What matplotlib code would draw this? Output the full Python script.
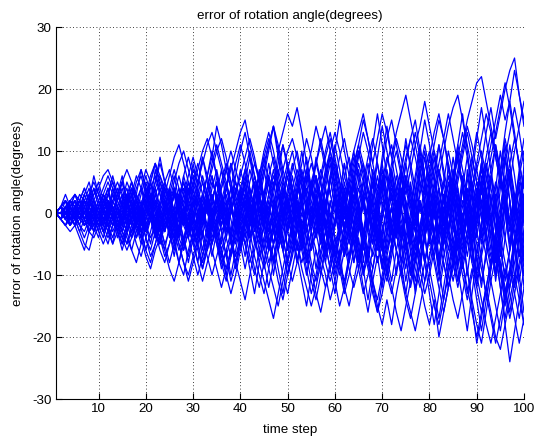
import matplotlib
matplotlib.use("Agg")
import matplotlib.pyplot as plt

time_step = list(range(1, 101))

s01 = [0, 1, -1, 1, 2, 0, -2, -1, 1, 3,
       2, 4, 1, -1, 2, 5, 3, 0, -2, 1,
       4, 6, 3, 1, -2, -4, -1, 2, 5, 3,
       0, -3, -6, -3, 1, 4, 7, 4, 0, -2,
       1, 5, 8, 6, 2, -1, -5, -2, 3, 7,
       10, 6, 2, -2, -6, -3, 2, 6, 9, 5,
       1, -3, -7, -4, 0, 5, 9, 12, 8, 3,
       -1, -5, -2, 3, 8, 12, 15, 10, 5, 0,
       -4, -8, -5, 1, 6, 11, 7, 3, -2, 2,
       8, 13, 17, 12, 16, 20, 23, 25, 19, 14]
s02 = [0, -1, 0, -2, -1, 1, -1, -3, -2, 0,
       -3, -5, -2, 0, -2, -4, -6, -3, -1, -4,
       -7, -5, -2, 1, -1, -4, -8, -10, -6, -3,
       -5, -9, -6, -2, 1, -3, -7, -11, -8, -4,
       -1, -5, -9, -12, -8, -4, -7, -11, -14, -10,
       -6, -2, -5, -9, -13, -10, -6, -3, -7, -11,
       -15, -12, -8, -4, -1, -5, -9, -13, -16, -11,
       -7, -3, -6, -10, -14, -17, -13, -8, -4, -9,
       -13, -17, -12, -7, -3, 1, -4, -9, -14, -18,
       -21, -16, -11, -7, -12, -18, -24, -19, -14, -9]
s03 = [0, 1, 2, 0, 1, 3, 2, 4, 1, -1,
       1, 3, 5, 2, 0, -2, 1, 4, 6, 3,
       1, -1, 2, 5, 7, 4, 2, 6, 9, 6,
       3, 1, 4, 8, 11, 8, 5, 2, 6, 10,
       13, 9, 6, 3, 7, 11, 14, 10, 13, 16,
       14, 17, 13, 8, 4, 1, 5, 9, 12, 8,
       4, 0, -3, 1, 5, 8, 4, 0, -4, -1,
       3, 7, 10, 6, 2, -2, -6, -2, 2, 6,
       10, 6, 2, -3, -7, -3, 1, 5, 9, 5,
       1, -4, -8, -4, 0, 4, 8, 12, 8, 4]
s04 = [0, 0, -1, 1, -1, -2, -4, -2, 0, -2,
       -4, -1, 1, -1, -3, -5, -2, 0, -3, -6,
       -8, -5, -2, 0, -3, -6, -3, 0, -4, -7,
       -10, -7, -4, -1, -4, -8, -11, -7, -3, 0,
       -3, -7, -10, -6, -2, 1, -2, -6, -10, -13,
       -9, -5, -1, -4, -8, -11, -7, -3, 0, -4,
       -8, -12, -15, -11, -7, -3, -7, -11, -15, -18,
       -14, -18, -13, -9, -5, -1, -5, -9, -13, -10,
       -6, -2, -6, -10, -14, -17, -13, -9, -15, -21,
       -17, -12, -8, -4, -8, -12, -16, -11, -6, -10]
s05 = [0, 1, 0, 2, 3, 1, 0, 2, 4, 2,
       0, -2, 0, 3, 5, 2, -1, 1, 4, 7,
       5, 2, -1, -3, 0, 3, 6, 3, 0, -3,
       -1, 3, 6, 9, 6, 3, 0, 4, 8, 11,
       8, 4, 1, -2, 2, 6, 9, 5, 1, -3,
       0, 4, 8, 12, 9, 5, 2, 6, 10, 13,
       10, 6, 3, 7, 11, 15, 12, 8, 12, 16,
       13, 9, 13, 16, 19, 15, 11, 7, 3, 7,
       11, 15, 12, 8, 4, 0, -4, 0, 4, 8,
       12, 16, 13, 9, 5, 9, 13, 17, 13, 8]
s06 = [0, -1, 1, 2, 0, -1, 1, 3, 5, 3,
       1, -1, -3, -1, 2, 4, 1, -2, -4, -1,
       2, 5, 8, 5, 2, -1, -4, -1, 2, 5,
       8, 5, 2, -1, -4, -7, -4, 0, 3, 6,
       9, 12, 9, 5, 2, -2, -5, -1, 3, 7,
       4, 0, -4, -8, -5, -1, 3, 7, 10, 7,
       3, -1, 2, 6, 10, 7, 3, -1, -5, -9,
       -5, -1, 3, 7, 11, 8, 4, 0, 4, 9,
       13, 16, 12, 7, 3, 7, 11, 15, 18, 21,
       22, 18, 14, 10, 6, 2, -2, 2, 6, 10]
s07 = [0, 0, 1, -1, -2, 0, -1, -3, -1, 1,
       -1, -3, -5, -3, -1, -3, -6, -8, -5, -2,
       0, -3, -5, -2, 1, -2, -5, -8, -11, -8,
       -5, -2, 1, -2, -5, -8, -6, -3, 0, 3,
       0, -3, -7, -10, -13, -9, -5, -2, -6, -10,
       -7, -3, 0, 4, 1, -3, -7, -10, -14, -11,
       -7, -3, 1, -2, -6, -10, -7, -3, 1, 5,
       2, -2, -6, -10, -7, -3, -7, -11, -15, -18,
       -14, -20, -16, -12, -8, -4, 0, -4, -8, -12,
       -16, -12, -8, -4, -8, -13, -17, -13, -9, -5]
s08 = [0, 1, -1, 0, 2, 1, 3, 1, -1, 1,
       3, 5, 3, 1, -1, 1, 4, 2, 0, 3,
       5, 8, 6, 3, 0, -3, 0, 3, 6, 9,
       6, 3, 0, -2, 1, 4, 7, 10, 7, 4,
       1, -2, 2, 6, 9, 12, 8, 4, 0, 3,
       7, 10, 6, 3, -1, 2, 6, 10, 13, 9,
       5, 2, 6, 10, 13, 16, 12, 8, 4, 8,
       12, 15, 11, 7, 3, 7, 11, 14, 18, 14,
       10, 6, 10, 14, 17, 19, 15, 11, 7, 3,
       -1, 3, 7, 11, 7, 2, -2, -6, -2, 3]
s09 = [0, -1, 0, 1, -1, -3, -5, -6, -3, -1,
       -2, -4, -2, 1, 3, 0, -2, -5, -7, -4,
       -1, 1, -2, -5, -8, -5, -2, 1, -2, -5,
       -8, -11, -8, -5, -1, 2, -1, -5, -8, -11,
       -14, -10, -6, -3, -6, -9, -12, -15, -11, -7,
       -3, 1, -2, -6, -9, -13, -16, -12, -8, -4,
       -8, -11, -7, -3, 1, -3, -7, -11, -14, -10,
       -6, -2, -6, -9, -13, -16, -19, -15, -11, -7,
       -3, 1, -3, -7, -11, -7, -3, 1, 5, 1,
       -3, -7, -11, -15, -19, -14, -9, -13, -17, -12]
s10 = [0, 1, 2, 1, -1, 0, 2, 1, 3, 5,
       2, 0, 2, 4, 1, -1, -3, 0, 3, 6,
       3, 0, -2, 1, 4, 7, 4, 1, -2, -5,
       -2, 1, 4, 7, 10, 12, 9, 5, 2, -1,
       -4, -1, 3, 6, 10, 13, 10, 6, 3, -1,
       -4, -8, -5, -1, 3, 6, 2, -2, 1, 5,
       9, 12, 8, 4, 0, -4, -7, -3, 1, 5,
       9, 6, 2, -2, -5, -1, 3, 7, 11, 7,
       3, -1, -5, -2, 2, 6, 10, 14, 11, 7,
       3, 7, 11, 15, 19, 15, 18, 23, 19, 15]
s11 = [0, 0, 1, 0, -1, 1, 0, -2, 0, 2,
       0, -2, -4, -1, 1, 3, 1, -1, -3, 0,
       2, 4, 1, -2, 0, 3, 1, -2, -4, -1,
       2, 5, 2, -1, -4, -2, 1, 4, 1, -2,
       -5, -2, 1, 4, 7, 3, 0, -3, -6, -3,
       0, 3, 6, 2, -1, -4, -1, 2, 5, 8,
       5, 1, -2, -5, -2, 1, 4, 1, -3, -6,
       -3, 1, 4, 7, 4, 0, -3, -7, -4, 0,
       3, 7, 4, 0, -4, -8, -5, -1, 3, 7,
       10, 6, 2, -2, -6, -10, -6, -2, 2, 6]
s12 = [0, -1, -2, -1, 0, -2, -3, -1, 1, -1,
       -3, -2, 0, -3, -5, -3, 0, 2, -1, -4,
       -6, -3, 0, 3, 0, -3, -6, -4, -1, 2,
       -1, -4, -7, -10, -7, -4, -1, -4, -8, -5,
       -2, 1, -2, -6, -9, -6, -3, 0, -4, -8,
       -11, -8, -4, -7, -11, -14, -10, -6, -3, -7,
       -10, -6, -2, -5, -9, -13, -10, -6, -2, -6,
       -10, -13, -9, -5, -1, -5, -9, -12, -8, -4,
       -8, -12, -16, -12, -8, -4, -8, -12, -16, -20,
       -16, -12, -16, -20, -22, -18, -14, -10, -14, -18]
s13 = [0, 1, 0, -1, 0, 2, 4, 2, 0, 2,
       4, 6, 4, 2, 5, 7, 5, 2, 0, 3,
       6, 8, 5, 3, 6, 9, 11, 8, 5, 2,
       5, 8, 11, 13, 10, 7, 4, 7, 10, 13,
       15, 11, 8, 5, 8, 11, 14, 11, 7, 4,
       1, -2, 1, 5, 8, 5, 1, -3, -6, -2,
       2, 6, 9, 5, 1, -3, -6, -9, -5, -1,
       3, 7, 3, -1, -5, -9, -12, -8, -4, 0,
       4, 8, 12, 16, 12, 8, 4, 0, -4, 0,
       4, 8, 4, 0, -4, -8, -12, -8, -4, 0]
s14 = [0, -1, -2, -3, -2, -4, -6, -3, -1, -3,
       -5, -3, -1, 1, -1, -3, -1, 2, 4, 2,
       -1, -3, -6, -8, -5, -2, -5, -8, -10, -7,
       -4, -1, 2, -1, -4, -7, -10, -13, -10, -6,
       -3, 0, 3, 6, 3, 0, -3, -6, -3, 0,
       4, 7, 4, 0, -3, -6, -9, -12, -9, -5,
       -2, 2, 5, 2, -2, -5, -8, -12, -16, -13,
       -9, -5, -1, 3, 0, -4, -8, -4, 0, 4,
       0, -4, -8, -12, -9, -5, -1, 3, -1, -5,
       -9, -13, -17, -21, -17, -13, -9, -5, -1, 3]
s15 = [0, 1, 2, 1, 3, 2, 0, 1, 3, 4,
       6, 7, 5, 3, 1, 3, 5, 3, 1, -1,
       1, 4, 6, 4, 2, 5, 8, 10, 7, 4,
       7, 10, 12, 9, 14, 11, 7, 4, 1, 4,
       7, 10, 6, 3, 0, -3, 0, 4, 7, 10,
       12, 9, 5, 1, 4, 8, 11, 14, 10, 6,
       2, -2, 1, 5, 9, 13, 10, 6, 2, -2,
       -6, -3, 1, 5, 9, 12, 9, 5, 1, -3,
       -7, -11, -7, -3, 1, 5, 9, 13, 9, 5,
       1, 5, 9, 13, 17, 21, 17, 12, 8, 4]
s16 = [0, 0, -1, -2, 0, 1, -1, -3, -4, -2,
       0, 2, 0, -2, -4, -6, -4, -2, -4, -7,
       -9, -6, -4, -6, -9, -11, -8, -5, -2, 1,
       3, 0, -3, -6, -9, -12, -9, -6, -3, 0,
       2, -1, -4, -8, -11, -14, -17, -13, -9, -5,
       -2, -5, -9, -12, -15, -12, -8, -5, -1, 2,
       -1, -5, -9, -12, -9, -5, -1, 3, -1, -5,
       -9, -12, -16, -19, -15, -11, -7, -3, -7, -11,
       -15, -18, -14, -10, -6, -2, 2, -2, -6, -10,
       -14, -18, -21, -17, -13, -9, -13, -17, -21, -17]
s17 = [0, 1, 0, 2, 1, -1, 0, 2, 0, -2,
       -1, 1, 3, 1, -1, -3, -1, 2, 0, -2,
       -4, -2, 1, 4, 2, -1, -3, 0, 3, 6,
       3, 0, -3, -5, -2, 1, 4, 1, -2, -5,
       -2, 2, 5, 2, -2, -5, -8, -4, 0, 4,
       8, 5, 1, -3, 0, 4, 7, 4, 0, -4,
       -7, -4, 0, 4, 8, 5, 1, -3, 0, 4,
       8, 11, 7, 3, -1, -5, -1, 3, 7, 10,
       6, 2, -2, 1, 5, 9, 13, 9, 5, 1,
       5, 9, 13, 9, 5, 1, 5, 10, 14, 18]
s18 = [0, -1, 1, 0, -2, -1, 1, -1, -2, 0,
       2, 0, -2, 0, 3, 1, -1, -4, -2, 1,
       3, 0, -2, -5, -3, 0, 3, 5, 2, -1,
       -4, -1, 2, 5, 3, 0, -4, -7, -4, 0,
       3, 7, 4, 1, -3, -6, -3, 1, 5, 2,
       -2, -5, -8, -5, -1, 2, -2, -5, -9, -6,
       -2, 2, 5, 9, 6, 2, -2, -5, -1, 3,
       7, 3, -1, -4, 0, 4, 0, -4, -8, -4,
       0, 4, 0, -4, -8, -12, -8, -4, 0, 4,
       0, -5, -9, -5, -1, 3, -1, -6, -12, -18]
s19 = [0, 0, 1, 2, 1, 0, -1, 1, 2, 0,
       -1, 1, 3, 5, 3, 0, 2, 5, 7, 4,
       1, -2, -4, -1, 2, -1, -4, -6, -3, 0,
       3, 6, 3, 0, -3, -6, -3, 0, 3, 7,
       4, 0, -4, -7, -4, 0, 4, 8, 11, 8,
       4, 0, 3, 7, 10, 14, 11, 7, 3, 0,
       -4, -7, -4, 0, 4, 1, -3, -7, -4, 0,
       4, 8, 12, 9, 5, 1, -3, -7, -11, -7,
       -3, 1, 5, 2, -2, -6, -10, -14, -10, -6,
       -2, 2, -2, -6, -10, -14, -10, -5, 0, 5]
s20 = [0, 1, -1, -2, 0, 2, 1, -1, -3, -1,
       1, 3, 1, -1, -3, -5, -3, -1, 1, 3,
       1, -2, -4, -7, -5, -2, 1, 4, 1, -2,
       -5, -8, -5, -1, 2, 5, 8, 5, 1, -2,
       -5, -8, -5, -1, 3, 6, 3, -1, -4, -8,
       -5, -1, 3, 7, 4, 0, -4, -8, -11, -8,
       -4, 0, 4, 8, 11, 8, 4, 0, -4, -8,
       -11, -7, -3, 1, 5, 9, 13, 9, 5, 1,
       -3, -7, -3, 1, 5, 9, 5, 1, -3, -7,
       -11, -7, -3, 1, 5, 9, 5, 1, -3, -8]
s21 = [0, -1, 0, 1, 3, 1, 2, 0, -1, 1,
       3, 2, 0, -2, -1, 1, 3, 6, 4, 1,
       -1, 1, 4, 2, -1, -4, -2, 1, -2, -5,
       -3, 0, 3, 0, -3, -6, -9, -6, -3, 1,
       4, 1, -2, -5, -2, 1, 4, 7, 4, 1,
       -2, -6, -3, 1, 5, 8, 5, 1, -2, -6,
       -9, -13, -10, -6, -2, 2, 6, 2, -2, -6,
       -10, -6, -2, 2, 6, 3, -1, -5, -1, 3,
       7, 11, 7, 3, -1, -5, -9, -5, -1, 3,
       7, 3, -1, -5, -9, -13, -9, -4, 1, 6]
s22 = [0, 1, -1, 0, 1, -1, -2, 0, 1, -1,
       -2, 0, 2, 0, -2, 1, 3, 1, -1, -3,
       0, 3, 5, 2, -1, 1, 4, 1, -2, 1,
       4, 1, -2, -4, -1, 2, -1, -4, -7, -4,
       -1, 2, -1, -4, -1, 3, 6, 3, 0, -3,
       -6, -3, 0, -3, -6, -3, 1, -2, -6, -9,
       -6, -2, 1, -2, -6, -9, -6, -2, 2, 5,
       1, -3, 0, 4, 0, -4, -7, -3, 1, -3,
       -7, -3, 1, -3, -7, -11, -7, -3, 1, -3,
       -7, -3, 1, 5, 1, -4, -8, -12, -8, -4]
s23 = [0, -1, 1, -2, 0, 2, -1, 1, 4, 1,
       -2, 2, -1, 3, 6, 2, 4, -1, 1, 5,
       2, 7, 3, 0, 4, -2, 1, 6, 3, 8,
       4, 9, 5, 1, 6, 2, -3, 1, -2, 3,
       7, 2, 5, -1, 3, 8, 4, 10, 6, 1,
       4, -2, 2, 7, 3, 9, 5, 0, 6, 11,
       7, 2, -4, 1, -3, 3, 8, 4, 9, 14,
       10, 5, 0, 6, 1, -4, 2, -3, 4, 9,
       5, 11, 6, 1, -5, 0, 6, 2, 8, 13,
       9, 4, -2, 3, -3, 2, -5, 1, 7, 2]
s24 = [0, 1, -1, 0, -2, 1, -1, -3, 0, -2,
       1, -2, -5, -1, -3, 0, -4, -1, 2, -2,
       -5, -1, -4, 0, -3, -7, -2, -5, 0, -4,
       -8, -3, -6, -1, 2, -3, -7, -4, -9, -5,
       0, -4, 1, -3, -8, -4, -10, -5, -1, -6,
       -2, 3, -2, -7, -3, -9, -4, 1, -4, -10,
       -6, -12, -7, -2, -8, -3, 2, -3, -8, -4,
       -10, -5, 0, -5, -11, -6, -13, -8, -3, -9,
       -4, 2, -3, -9, -5, -11, -6, 0, -6, -12,
       -7, -14, -9, -3, -10, -4, 2, -4, -11, -6]
s25 = [0, 0, 2, -1, 1, -1, 2, 0, -2, 1,
       3, 0, 4, 1, -2, 2, -1, 3, 0, 4,
       1, -3, 1, 5, 2, -2, 3, -1, 4, 0,
       -4, 1, -3, 2, 5, 0, 4, 8, 3, -1,
       3, -2, 2, 7, 2, -3, 1, -4, 2, 6,
       1, 5, 10, 5, 0, 4, -1, -6, -2, 3,
       -2, 4, -1, 5, 10, 6, 1, -5, 0, -6,
       -1, 5, 0, 6, 12, 7, 2, -4, 1, -5,
       1, 7, 2, -3, 3, -3, 4, 9, 3, -2,
       4, -2, 5, 11, 6, 0, -6, -1, 5, -2]
s26 = [0, -1, 0, 2, 1, -1, 1, -2, 1, -1,
       -3, 0, -2, 1, -3, -1, 2, -2, 1, -3,
       0, -4, -1, 2, -2, 1, -3, 0, 4, 0,
       -4, 0, 3, -1, 3, -2, 1, -4, 0, -5,
       -1, 4, 0, -4, 1, 5, 0, -5, -1, 3,
       -2, 2, -3, -8, -3, 1, -4, 1, 6, 1,
       -4, 0, 5, 0, -5, -10, -5, 0, -5, 1,
       6, 1, -4, 1, -5, -10, -4, 2, -3, 3,
       -3, -9, -3, 2, 7, 2, -4, 1, -5, -11,
       -6, 0, 6, 1, -5, -11, -6, 0, 6, 1]
s27 = [0, 1, 3, 1, 2, 0, 3, 1, -1, 2,
       0, 3, 6, 3, 5, 2, 0, 3, 7, 4,
       2, 5, 9, 5, 3, 6, 2, -1, 3, 7,
       5, 9, 6, 2, 5, 1, 4, 8, 5, 2,
       6, 3, 0, 4, 9, 5, 1, 6, 11, 7,
       3, -2, 2, 7, 3, 8, 12, 8, 3, 7,
       2, -3, 1, 6, 2, -4, 1, 7, 3, 9,
       14, 9, 4, 0, 5, 1, 6, 11, 6, 1,
       -4, 1, -5, 0, 5, 11, 16, 10, 4, -1,
       5, 0, -6, 0, 6, 12, 8, 3, -3, 2]
s28 = [0, -1, -2, 0, -1, -3, -1, 0, -2, -4,
       -1, -3, 0, -2, -5, -2, -4, -1, -3, -6,
       -3, 0, -3, -6, -2, -5, -8, -4, -7, -3,
       -6, -9, -5, -2, -5, -9, -6, -10, -6, -2,
       -5, -9, -13, -8, -4, -8, -5, -9, -13, -8,
       -4, -7, -11, -15, -10, -6, -10, -5, -9, -13,
       -8, -4, -8, -3, -7, -12, -16, -11, -7, -12,
       -7, -11, -6, -2, -7, -12, -8, -3, -8, -13,
       -18, -13, -8, -12, -7, -3, -8, -13, -9, -14,
       -19, -14, -9, -4, -9, -15, -10, -5, -10, -16]
s29 = [0, 1, 0, -1, 1, 2, 0, -1, 2, 4,
       1, -1, 2, 0, -2, 1, 4, 2, -1, -3,
       0, 3, 0, -3, 1, 4, 1, -2, 2, 5,
       2, -1, 3, 6, 2, -2, 2, -1, -5, -1,
       3, -1, -5, -1, 3, 6, 2, -2, -6, -2,
       2, 6, 1, -3, 1, -4, 0, 5, 9, 4,
       0, 5, 1, -4, -8, -4, 1, 5, 0, -5,
       -9, -5, 0, 4, -1, -6, -11, -6, -1, 4,
       9, 4, -1, -6, -1, 4, -2, -7, -2, 3,
       8, 3, -2, -8, -3, 2, 7, 2, -3, -9]
s30 = [0, 0, -1, 1, 0, 2, 4, 2, 6, 3,
       1, -1, 1, -2, 0, 3, 1, -2, -5, -2,
       1, 4, 0, -3, 0, 3, -1, -4, -8, -4,
       0, 3, 0, 4, 7, 3, -1, 2, -2, 1,
       5, 9, 4, 0, 3, -1, -5, -1, 4, 0,
       -4, 0, 5, 9, 4, -1, 3, -2, -6, -1,
       3, 8, 3, -2, 2, -3, -8, -3, 2, 7,
       2, -3, 1, -4, -9, -4, 1, 6, 10, 5,
       0, -5, 0, 5, 0, -6, -1, 4, -1, -7,
       -2, 4, -1, -7, -1, 5, 11, 6, 0, -5]
s31 = [0, -1, 1, 0, -1, 0, -2, 0, -3, -1,
       1, -2, 0, -3, -6, -3, -1, -4, -1, 2,
       -1, -4, -1, 2, -2, -5, -2, -6, -3, 0,
       -3, -7, -3, 1, -2, -6, -10, -6, -2, -5,
       -9, -5, -1, -4, -8, -12, -8, -3, -6, -10,
       -6, -2, -6, -10, -5, -1, -5, 1, -3, -8,
       -3, 1, -4, -8, -4, -9, -14, -9, -4, -8,
       -3, 1, -3, -8, -13, -8, -4, -9, -4, 1,
       -4, -9, -14, -9, -4, -9, -14, -19, -13, -7,
       -12, -6, -1, -6, -12, -17, -12, -6, -1, -7]
s32 = [0, 1, 0, 1, -1, 1, 3, 5, 2, 0,
       2, 0, -2, 1, -1, 2, 5, 2, -1, 2,
       5, 8, 4, 1, 4, 0, -3, 1, 5, 2,
       -2, 2, 6, 10, 6, 2, 5, 1, -3, 1,
       5, 1, -2, 2, 6, 10, 14, 9, 5, 8,
       4, 0, -4, 1, 5, 0, -4, 0, 5, 10,
       15, 10, 6, 10, 5, 1, 6, 11, 16, 11,
       6, 2, 6, 1, -4, 0, 5, 10, 15, 11,
       6, 1, 5, 10, 6, 1, -4, 1, 6, 12,
       17, 12, 7, 2, 7, 13, 18, 13, 7, 12]
s33 = [0, 1, -1, 2, 0, -2, 1, 3, 0, -3,
       1, 4, 0, -3, 2, -2, 3, -1, -4, 1,
       5, 1, -3, 2, -2, 4, 0, -5, -1, 4,
       0, -4, 2, -3, 3, 7, 2, -3, 1, -4,
       2, -2, 4, -1, -6, -1, 5, 0, -5, 1,
       6, 1, -4, 2, -3, 3, -2, 4, -1, -7,
       -2, 4, -1, 5, 0, -6, -1, 5, -1, 6,
       1, -5, 0, 6, 1, -5, 1, 7, 2, -4,
       2, -4, 3, -3, 4, -2, 5, -1, -8, -2,
       5, -1, 6, 0, -7, -1, 6, 0, -7, 1]
s34 = [0, -1, 0, -2, 1, -1, 2, -1, -3, 0,
       -2, 1, -1, -4, -1, 2, -2, 1, -3, -1,
       2, -2, -5, -1, 3, 0, -4, 1, -3, 2,
       -2, -6, -2, 3, -1, -5, 0, -4, 1, -3,
       -7, -2, 2, -3, 1, -4, -8, -3, 2, -2,
       3, -2, -6, -1, 4, 0, -5, -1, -6, -2,
       2, -3, 1, -5, -9, -4, 1, -3, 2, -4,
       1, -5, -10, -5, 0, -4, 2, -3, -8, -3,
       2, -3, 3, -2, -7, -2, 4, -1, -6, 0,
       -5, 1, -4, -10, -4, 2, -3, 3, -2, -7]
s35 = [0, 0, 1, -1, 1, 2, 0, -1, 1, -1,
       2, 0, 3, 1, -1, 2, 0, -2, 1, 3,
       0, -2, 1, 4, 1, -2, 2, 5, 1, -2,
       2, -1, 3, 6, 2, -1, 3, 0, 4, 1,
       -2, 2, 6, 2, -1, 3, 7, 3, -1, 2,
       -2, 3, 7, 3, -2, 2, -1, 4, 8, 3,
       -1, 3, -2, 2, 7, 3, -2, 3, 8, 4,
       -1, 3, -3, 2, 8, 3, -2, 4, 9, 4,
       -1, 4, -2, 3, 9, 4, -2, 3, -3, 2,
       8, 3, -2, 4, 10, 4, -2, 3, -4, 1]
s36 = [0, 1, 0, -1, 0, 1, -1, 0, 2, 0,
       -1, 1, -1, -3, 0, 2, -1, 1, -2, 0,
       3, 1, -2, 0, -3, -1, 2, -1, -4, -1,
       2, -1, -4, 0, 3, 0, -3, 1, -2, 2,
       5, 1, -3, 1, -2, 2, -2, -6, -2, 2,
       -2, 2, -3, 1, 5, 1, -3, 2, -2, 3,
       -1, -5, -1, 3, -1, 3, -2, 2, 6, 1,
       -3, 1, -4, 1, 6, 2, -3, 2, -4, 0,
       5, 0, -5, 0, 5, 1, -4, 1, -5, 0,
       6, 1, -4, 2, -3, 2, 7, 2, -3, 3]
s37 = [0, -1, 1, 0, 2, 0, -1, 1, -1, 1,
       3, 1, -1, 2, 4, 1, -1, 1, -2, 1,
       -1, 2, 0, -3, 0, 3, 0, -2, 1, 4,
       1, -2, 2, -1, 3, 0, -4, 0, 4, 1,
       -2, 2, -2, 3, 0, -4, 1, 5, 1, -3,
       1, -3, 2, 6, 2, -2, 2, -3, 2, -2,
       3, 8, 3, -2, 2, -4, 1, -3, 3, 8,
       3, -2, 2, -4, 2, -3, 3, 9, 4, -2,
       3, -3, 3, -3, 4, 10, 4, -2, 3, -4,
       2, -4, 3, -3, 4, 11, 5, -1, 4, -4]
s38 = [0, 0, -1, 1, -1, 0, -2, -1, 1, -1,
       -3, -1, 1, -1, -4, -2, 1, -2, 0, -3,
       -1, 2, -2, 0, -4, -1, 3, -1, -4, 0,
       -3, 1, -3, -7, -3, 1, -2, 2, -2, -6,
       -2, 2, -2, 3, -1, -6, -1, 3, -2, 2,
       -3, -8, -3, 2, -2, 3, -2, -8, -3, 2,
       -3, 3, -2, -8, -3, 2, -3, 2, -3, -9,
       -4, 1, -4, 1, -4, -10, -4, 2, -3, 2,
       -4, -10, -4, 2, -3, 3, -3, -10, -4, 2,
       -4, 2, -4, -11, -5, 1, -5, 2, -4, -12]
s39 = [0, 1, 2, 0, -1, 1, 0, 2, 0, -2,
       0, 2, 0, -2, 0, 3, 1, -3, -1, 2,
       -1, -4, -2, 1, -1, -4, 0, 3, 1, -3,
       -1, 3, 1, -5, -2, 2, 0, -5, -1, 4,
       1, -4, 0, 5, 1, -6, -2, 3, 0, -6,
       -1, 4, 2, -5, -1, 6, 1, -7, -2, 4,
       0, -7, -2, 5, 1, -8, -2, 6, 2, -6,
       -1, 7, 1, -8, -3, 5, 0, -9, -2, 6,
       2, -8, -1, 8, 1, -9, -3, 7, 0, -10,
       -2, 8, 1, -10, -2, 9, 2, -11, -3, 8]
s40 = [0, -1, -2, 0, -1, 1, 2, 0, -1, 1,
       -1, 0, 2, 3, 1, -1, 1, -2, -3, 0,
       2, -1, -3, 0, 2, 4, 1, -2, 0, -3,
       -5, -2, 1, 3, 0, -3, -1, 2, 5, 2,
       -1, -4, -1, 2, -2, -5, -2, 1, 4, 1,
       -3, -6, -3, 0, 3, 6, 3, -1, -4, -1,
       2, -2, -5, -2, 2, 5, 2, -2, -6, -3,
       1, 4, 1, -3, -6, -3, 1, 5, 2, -2,
       -5, -2, 2, 6, 2, -2, -6, -3, 1, 5,
       2, -3, -7, -3, 1, 6, 2, -3, -7, -3]

all_series = [s01, s02, s03, s04, s05, s06, s07, s08, s09, s10,
              s11, s12, s13, s14, s15, s16, s17, s18, s19, s20,
              s21, s22, s23, s24, s25, s26, s27, s28, s29, s30,
              s31, s32, s33, s34, s35, s36, s37, s38, s39, s40]

x_ticks = [10, 20, 30, 40, 50, 60, 70, 80, 90, 100]
y_ticks = [-30, -20, -10, 0, 10, 20, 30]

plt.rcParams['font.family'] = ['Liberation Sans', 'DejaVu Sans']
plt.rcParams['axes.unicode_minus'] = False

fig = plt.figure(figsize=(5.36, 4.44), dpi=100)
ax = fig.add_axes([56 / 536, 1 - 399 / 444, 468 / 536, 372 / 444])

for s in all_series:
    n = min(len(s), len(time_step))
    ax.plot(time_step[:n], s[:n], color=(0, 0, 1), lw=0.9)

ax.set_xlim(1, 100)
ax.set_ylim(-30, 30)
ax.set_xticks(x_ticks)
ax.set_yticks(y_ticks)
ax.grid(True, linestyle=(0, (1, 3)), color='black', lw=0.6)
ax.spines['top'].set_visible(False)
ax.spines['right'].set_visible(False)
for sp in ('left', 'bottom'):
    ax.spines[sp].set_linewidth(0.8)
ax.tick_params(direction='in', length=4, width=0.8, labelsize=9.6, pad=3)
ax.set_title('error of rotation angle(degrees)', fontsize=9.6, pad=6)
ax.set_xlabel('time step', fontsize=9.6, labelpad=6)
ax.set_ylabel('error of rotation angle(degrees)', fontsize=9.6, labelpad=6)

fig.savefig('out.png', dpi=100)
